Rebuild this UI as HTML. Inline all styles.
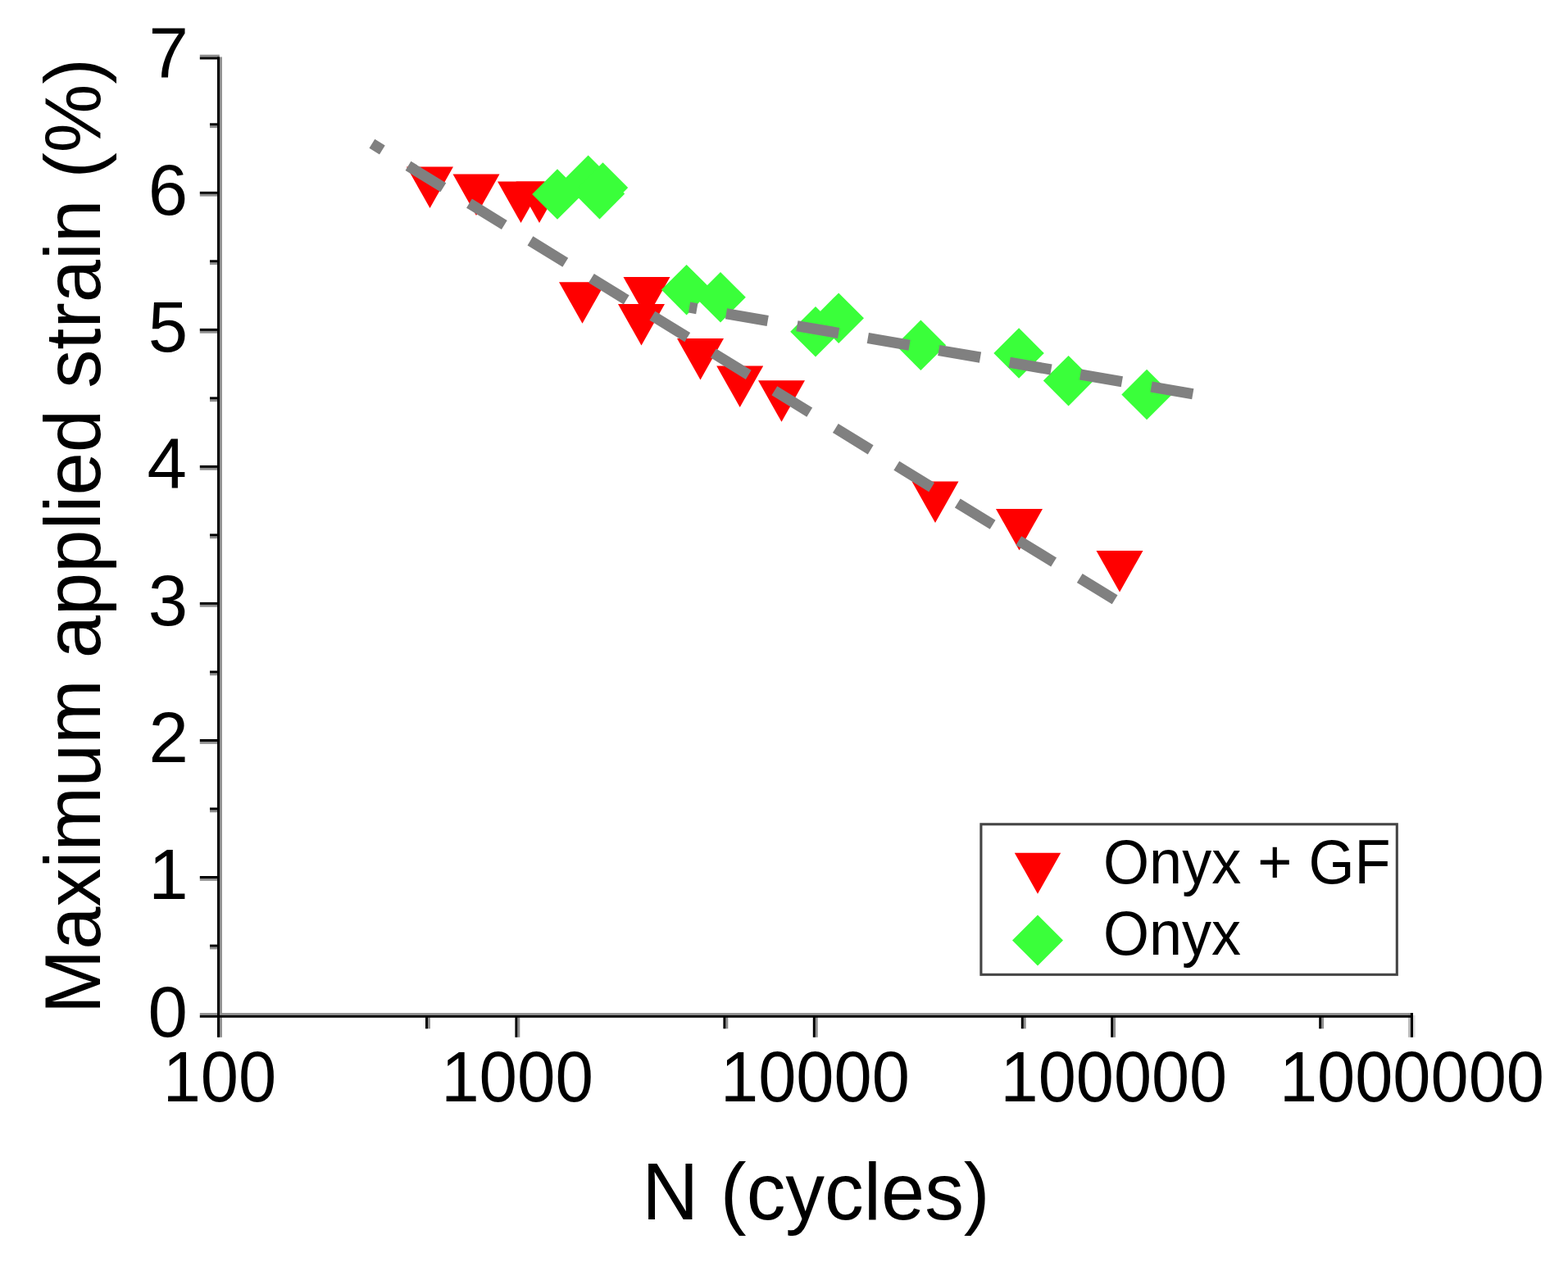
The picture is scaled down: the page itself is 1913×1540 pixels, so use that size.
<!DOCTYPE html>
<html><head><meta charset="utf-8"><title>Maximum applied strain vs N (cycles)</title>
<style>html,body{margin:0;padding:0;background:#fff;width:1913px;height:1540px;overflow:hidden}svg{display:block}</style>
</head><body>
<svg width="1913" height="1540" viewBox="0 0 1913 1540">
<style>.t{font-family:"Liberation Sans",Arial,sans-serif;fill:#000}</style>
<rect width="1913" height="1540" fill="#fff"/>
<rect x="1718.1" y="1236.1" width="2.8" height="29.7" fill="#b8b8b8"/><rect x="1724" y="1239" width="2.6" height="26.8" fill="#dcdcdc"/><g fill="#8e8e8e"><rect x="268" y="69.5" width="2.9" height="1196.3"/><rect x="243.8" y="1236.1" width="1480.2" height="2.8"/><rect x="243.8" y="1072.0" width="24" height="2.8"/><rect x="243.8" y="905.0" width="24" height="2.8"/><rect x="243.8" y="737.9" width="24" height="2.8"/><rect x="243.8" y="570.9" width="24" height="2.8"/><rect x="243.8" y="403.9" width="24" height="2.8"/><rect x="243.8" y="236.8" width="24" height="2.8"/><rect x="243.8" y="66.7" width="24" height="2.8"/><rect x="256" y="1155.6" width="12" height="2.8"/><rect x="256" y="988.5" width="12" height="2.8"/><rect x="256" y="821.5" width="12" height="2.8"/><rect x="256" y="654.4" width="12" height="2.8"/><rect x="256" y="487.4" width="12" height="2.8"/><rect x="256" y="320.3" width="12" height="2.8"/><rect x="256" y="153.3" width="12" height="2.8"/><rect x="631.4" y="1239" width="2.9" height="26.8"/><rect x="994.8" y="1239" width="2.9" height="26.8"/><rect x="1358.2" y="1239" width="2.9" height="26.8"/><rect x="522.0" y="1239" width="2.9" height="16.3"/><rect x="885.4" y="1239" width="2.9" height="16.3"/><rect x="1248.8" y="1239" width="2.9" height="16.3"/><rect x="1612.2" y="1239" width="2.9" height="16.3"/></g><g fill="#000"><rect x="265" y="69.5" width="3" height="1196.3"/><rect x="243.8" y="1238.9" width="1480.2" height="2.9"/><rect x="243.8" y="1069.0" width="24" height="3"/><rect x="243.8" y="902.0" width="24" height="3"/><rect x="243.8" y="734.9" width="24" height="3"/><rect x="243.8" y="567.9" width="24" height="3"/><rect x="243.8" y="400.9" width="24" height="3"/><rect x="243.8" y="233.8" width="24" height="3"/><rect x="243.8" y="69.5" width="24" height="3"/><rect x="256" y="1152.6" width="12" height="3"/><rect x="256" y="985.5" width="12" height="3"/><rect x="256" y="818.5" width="12" height="3"/><rect x="256" y="651.4" width="12" height="3"/><rect x="256" y="484.4" width="12" height="3"/><rect x="256" y="317.3" width="12" height="3"/><rect x="256" y="150.3" width="12" height="3"/><rect x="628.4" y="1239" width="3" height="26.8"/><rect x="991.8" y="1239" width="3" height="26.8"/><rect x="1355.2" y="1239" width="3" height="26.8"/><rect x="1720.9" y="1236.1" width="3.1" height="29.7"/><rect x="519.0" y="1239" width="3" height="16.3"/><rect x="882.4" y="1239" width="3" height="16.3"/><rect x="1245.8" y="1239" width="3" height="16.3"/><rect x="1609.2" y="1239" width="3" height="16.3"/></g><text transform="translate(180.41,1264.50) scale(1.0000,1)" class="t" font-size="87">0</text><text transform="translate(181.26,1097.45) scale(1.0000,1)" class="t" font-size="87">1</text><text transform="translate(181.39,930.40) scale(1.0000,1)" class="t" font-size="87">2</text><text transform="translate(180.84,763.35) scale(1.0000,1)" class="t" font-size="87">3</text><text transform="translate(179.56,596.30) scale(1.0000,1)" class="t" font-size="87">4</text><text transform="translate(180.67,429.25) scale(1.0000,1)" class="t" font-size="87">5</text><text transform="translate(180.84,262.20) scale(1.0000,1)" class="t" font-size="87">6</text><text transform="translate(181.39,95.15) scale(1.0000,1)" class="t" font-size="87">7</text><text transform="translate(198.67,1344.10) scale(0.9546,1)" class="t" font-size="87">100</text><text transform="translate(538.13,1344.10) scale(0.9607,1)" class="t" font-size="87">1000</text><text transform="translate(879.08,1344.10) scale(0.9539,1)" class="t" font-size="87">10000</text><text transform="translate(1220.58,1344.10) scale(0.9530,1)" class="t" font-size="87">100000</text><text transform="translate(1560.88,1344.10) scale(0.9541,1)" class="t" font-size="87">1000000</text><text transform="translate(122.30,1237.22) rotate(-90) scale(0.9702,1)" class="t" font-size="97">Maximum applied strain (%)</text><text transform="translate(783.37,1487.50) scale(0.9743,1)" class="t" font-size="98">N (cycles)</text>
<path d="M496.0 203.5 L553.0 203.5 L524.5 254.0 Z" fill="#ff0000"/><path d="M552.5 212.5 L609.5 212.5 L581.0 263.0 Z" fill="#ff0000"/><path d="M607.0 221.6 L664.0 221.6 L635.5 272.1 Z" fill="#ff0000"/><path d="M629.5 221.6 L686.5 221.6 L658.0 272.1 Z" fill="#ff0000"/><path d="M682.0 344.2 L739.0 344.2 L710.5 394.7 Z" fill="#ff0000"/><path d="M760.5 338.0 L817.5 338.0 L789.0 388.5 Z" fill="#ff0000"/><path d="M754.0 371.0 L811.0 371.0 L782.5 421.5 Z" fill="#ff0000"/><path d="M826.0 413.1 L883.0 413.1 L854.5 463.6 Z" fill="#ff0000"/><path d="M874.2 446.5 L931.2 446.5 L902.7 497.0 Z" fill="#ff0000"/><path d="M925.0 464.3 L982.0 464.3 L953.5 514.8 Z" fill="#ff0000"/><path d="M1112.5 587.6 L1169.5 587.6 L1141.0 638.1 Z" fill="#ff0000"/><path d="M1215.0 621.0 L1272.0 621.0 L1243.5 671.5 Z" fill="#ff0000"/><path d="M1337.5 672.1 L1394.5 672.1 L1366.0 722.6 Z" fill="#ff0000"/><path d="M680.0 206.2 L710.8 237.0 L680.0 267.8 L649.2 237.0 Z" fill="#3aff3a"/><path d="M717.6 189.6 L748.4 220.3 L717.6 251.1 L686.9 220.3 Z" fill="#3aff3a"/><path d="M735.5 198.2 L766.2 229.0 L735.5 259.8 L704.8 229.0 Z" fill="#3aff3a"/><path d="M731.5 205.8 L762.2 236.6 L731.5 267.4 L700.8 236.6 Z" fill="#3aff3a"/><path d="M837.6 322.9 L868.4 353.6 L837.6 384.4 L806.9 353.6 Z" fill="#3aff3a"/><path d="M879.0 332.1 L909.8 362.8 L879.0 393.6 L848.2 362.8 Z" fill="#3aff3a"/><path d="M1023.2 357.4 L1054.0 388.2 L1023.2 418.9 L992.5 388.2 Z" fill="#3aff3a"/><path d="M995.0 374.1 L1025.8 404.8 L995.0 435.6 L964.2 404.8 Z" fill="#3aff3a"/><path d="M1123.4 390.6 L1154.2 421.3 L1123.4 452.1 L1092.7 421.3 Z" fill="#3aff3a"/><path d="M1243.1 400.2 L1273.8 431.0 L1243.1 461.8 L1212.3 431.0 Z" fill="#3aff3a"/><path d="M1303.6 433.9 L1334.3 464.6 L1303.6 495.4 L1272.8 464.6 Z" fill="#3aff3a"/><path d="M1399.1 450.8 L1429.8 481.5 L1399.1 512.2 L1368.3 481.5 Z" fill="#3aff3a"/>
<path d="M1360.1 731.8 L453.9 175.3" stroke="#808080" stroke-width="13" stroke-dasharray="50.3 37.1" fill="none"/><path d="M1455.3 480.7 L841 375.1" stroke="#808080" stroke-width="13.2" stroke-dasharray="51.5 36.2" fill="none"/>
<rect x="1196.9" y="1005.8" width="507.4" height="183.5" fill="#fff" stroke="#444" stroke-width="3.1"/><path d="M1237.8 1040.8 L1294.2 1040.8 L1266.0 1090.8 Z" fill="#ff0000"/><path d="M1266.0 1116.4 L1297.0 1147.4 L1266.0 1178.4 L1235.0 1147.4 Z" fill="#3aff3a"/><text transform="translate(1345.98,1077.70) scale(0.9553,1)" class="t" font-size="75.5">Onyx + GF</text><text transform="translate(1345.99,1164.50) scale(0.9539,1)" class="t" font-size="75.5">Onyx</text>
</svg>
</body></html>
